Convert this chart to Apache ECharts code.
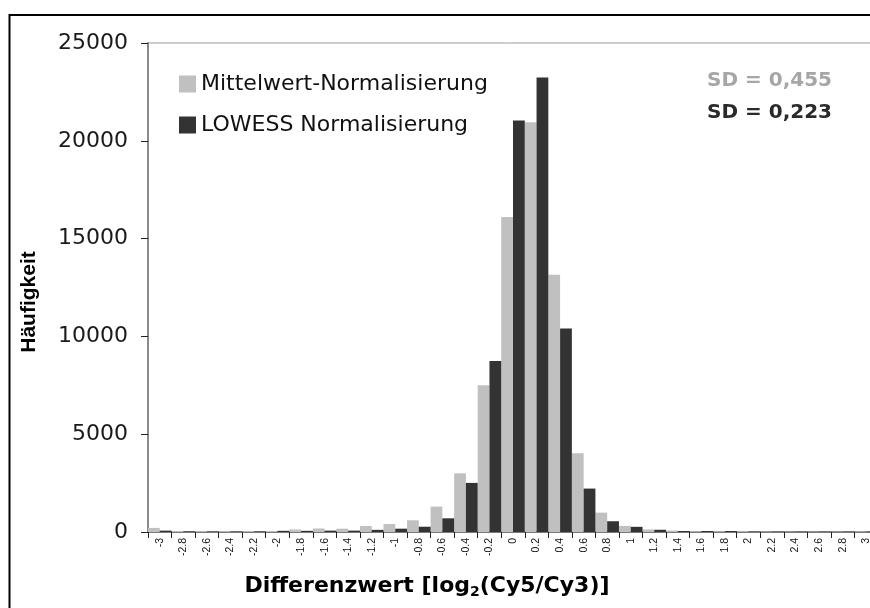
<!DOCTYPE html>
<html>
<head>
<meta charset="utf-8">
<script src="https://cdn.jsdelivr.net/npm/echarts@6/dist/echarts.min.js"></script>
<style>html,body{margin:0;padding:0;background:#fff;}#c{width:870px;height:608px;}</style>
</head>
<body>
<div id="c"></div>
<script>
var categories = ['-3','-2.8','-2.6','-2.4','-2.2','-2','-1.8','-1.6','-1.4','-1.2','-1','-0.8','-0.6','-0.4','-0.2','0','0.2','0.4','0.6','0.8','1','1.2','1.4','1.6','1.8','2','2.2','2.4','2.6','2.8','3'];
var mittelwert = [210,50,45,45,45,50,130,180,170,310,410,600,1300,3000,7500,16100,20950,13150,4030,990,310,130,75,35,35,40,20,15,15,15,30];
var lowess = [70,20,10,10,15,60,60,70,70,110,170,270,700,2510,8740,21040,23240,10410,2220,550,265,115,50,50,50,10,5,5,5,5,5];
var yTicks = {min: 0, max: 25000, interval: 5000};
var seriesNames = ['Mittelwert-Normalisierung', 'LOWESS Normalisierung'];
var sdTexts = ['SD = 0,455', 'SD = 0,223'];
var yTitle = 'Häufigkeit';

var chart = echarts.init(document.getElementById('c'), null, {renderer: 'canvas'});
var option = {
  backgroundColor: '#ffffff',
  animation: false,
  grid: {left: 148, top: 43, right: -8, bottom: 76, show: true, borderColor: '#9a9a9a', borderWidth: 1, outerBoundsMode: 'none', containLabel: false},
  legend: {
    data: seriesNames, orient: 'vertical', left: 174, top: 68, itemWidth: 17, itemHeight: 17, itemGap: 19,
    icon: 'rect',
    textStyle: {fontFamily: 'DejaVu Sans', fontSize: 22, color: '#111'}
  },
  xAxis: {
    type: 'category', data: categories, boundaryGap: true,
    axisLine: {show: true, lineStyle: {color: '#7a7a7a', width: 2}},
    axisTick: {show: true, alignWithLabel: false, length: 6, interval: 0, lineStyle: {color: '#222', width: 1}},
    axisLabel: {interval: 0, rotate: 90, fontFamily: 'Liberation Sans', fontSize: 10.5, color: '#111', margin: 6},
    splitLine: {show: false}
  },
  yAxis: {
    type: 'value', min: yTicks.min, max: yTicks.max, interval: yTicks.interval,
    axisLine: {show: true, lineStyle: {color: '#8a8a8a', width: 2}},
    axisTick: {show: true, inside: false, length: 7, lineStyle: {color: '#222', width: 1}},
    axisLabel: {fontFamily: 'DejaVu Sans', fontSize: 22, color: '#1a1a1a', margin: 20, formatter: function (v) { return String(v); }},
    splitLine: {show: false}
  },
  series: [
    {name: seriesNames[0], type: 'bar', data: mittelwert, barGap: '0%', barCategoryGap: '0%', itemStyle: {color: '#c0c0c0'}},
    {name: seriesNames[1], type: 'bar', data: lowess, barGap: '0%', barCategoryGap: '0%', itemStyle: {color: '#333333'}}
  ],
  graphic: [
    {type: 'rect', shape: {x: 9.5, y: 15, width: 900, height: 700}, style: {fill: 'none', stroke: '#000', lineWidth: 2}, silent: true, z: 100},
    {type: 'text', x: 832, y: 81, style: {text: sdTexts[0], fill: '#a6a6a6', font: 'bold 20px "DejaVu Sans"', textAlign: 'right', textVerticalAlign: 'middle'}},
    {type: 'text', x: 832, y: 113, style: {text: sdTexts[1], fill: '#2a2a2a', font: 'bold 20px "DejaVu Sans"', textAlign: 'right', textVerticalAlign: 'middle'}},
    {type: 'text', x: 29, y: 302, rotation: Math.PI / 2, style: {text: yTitle, fill: '#000', font: 'bold 21px "Liberation Sans"', textAlign: 'center', textVerticalAlign: 'middle'}},
    {type: 'text', x: 427, y: 586, style: {
      text: '{a|Differenzwert [log}{s|2}{a|(Cy5/Cy3)]}', textAlign: 'center', textVerticalAlign: 'middle',
      rich: {
        a: {fontFamily: 'DejaVu Sans', fontWeight: 'bold', fontSize: 22, lineHeight: 26, fill: '#000'},
        s: {fontFamily: 'DejaVu Sans', fontWeight: 'bold', fontSize: 14, lineHeight: 14, verticalAlign: 'bottom', fill: '#000'}
      }
    }}
  ]
};
chart.setOption(option);
</script>
</body>
</html>
